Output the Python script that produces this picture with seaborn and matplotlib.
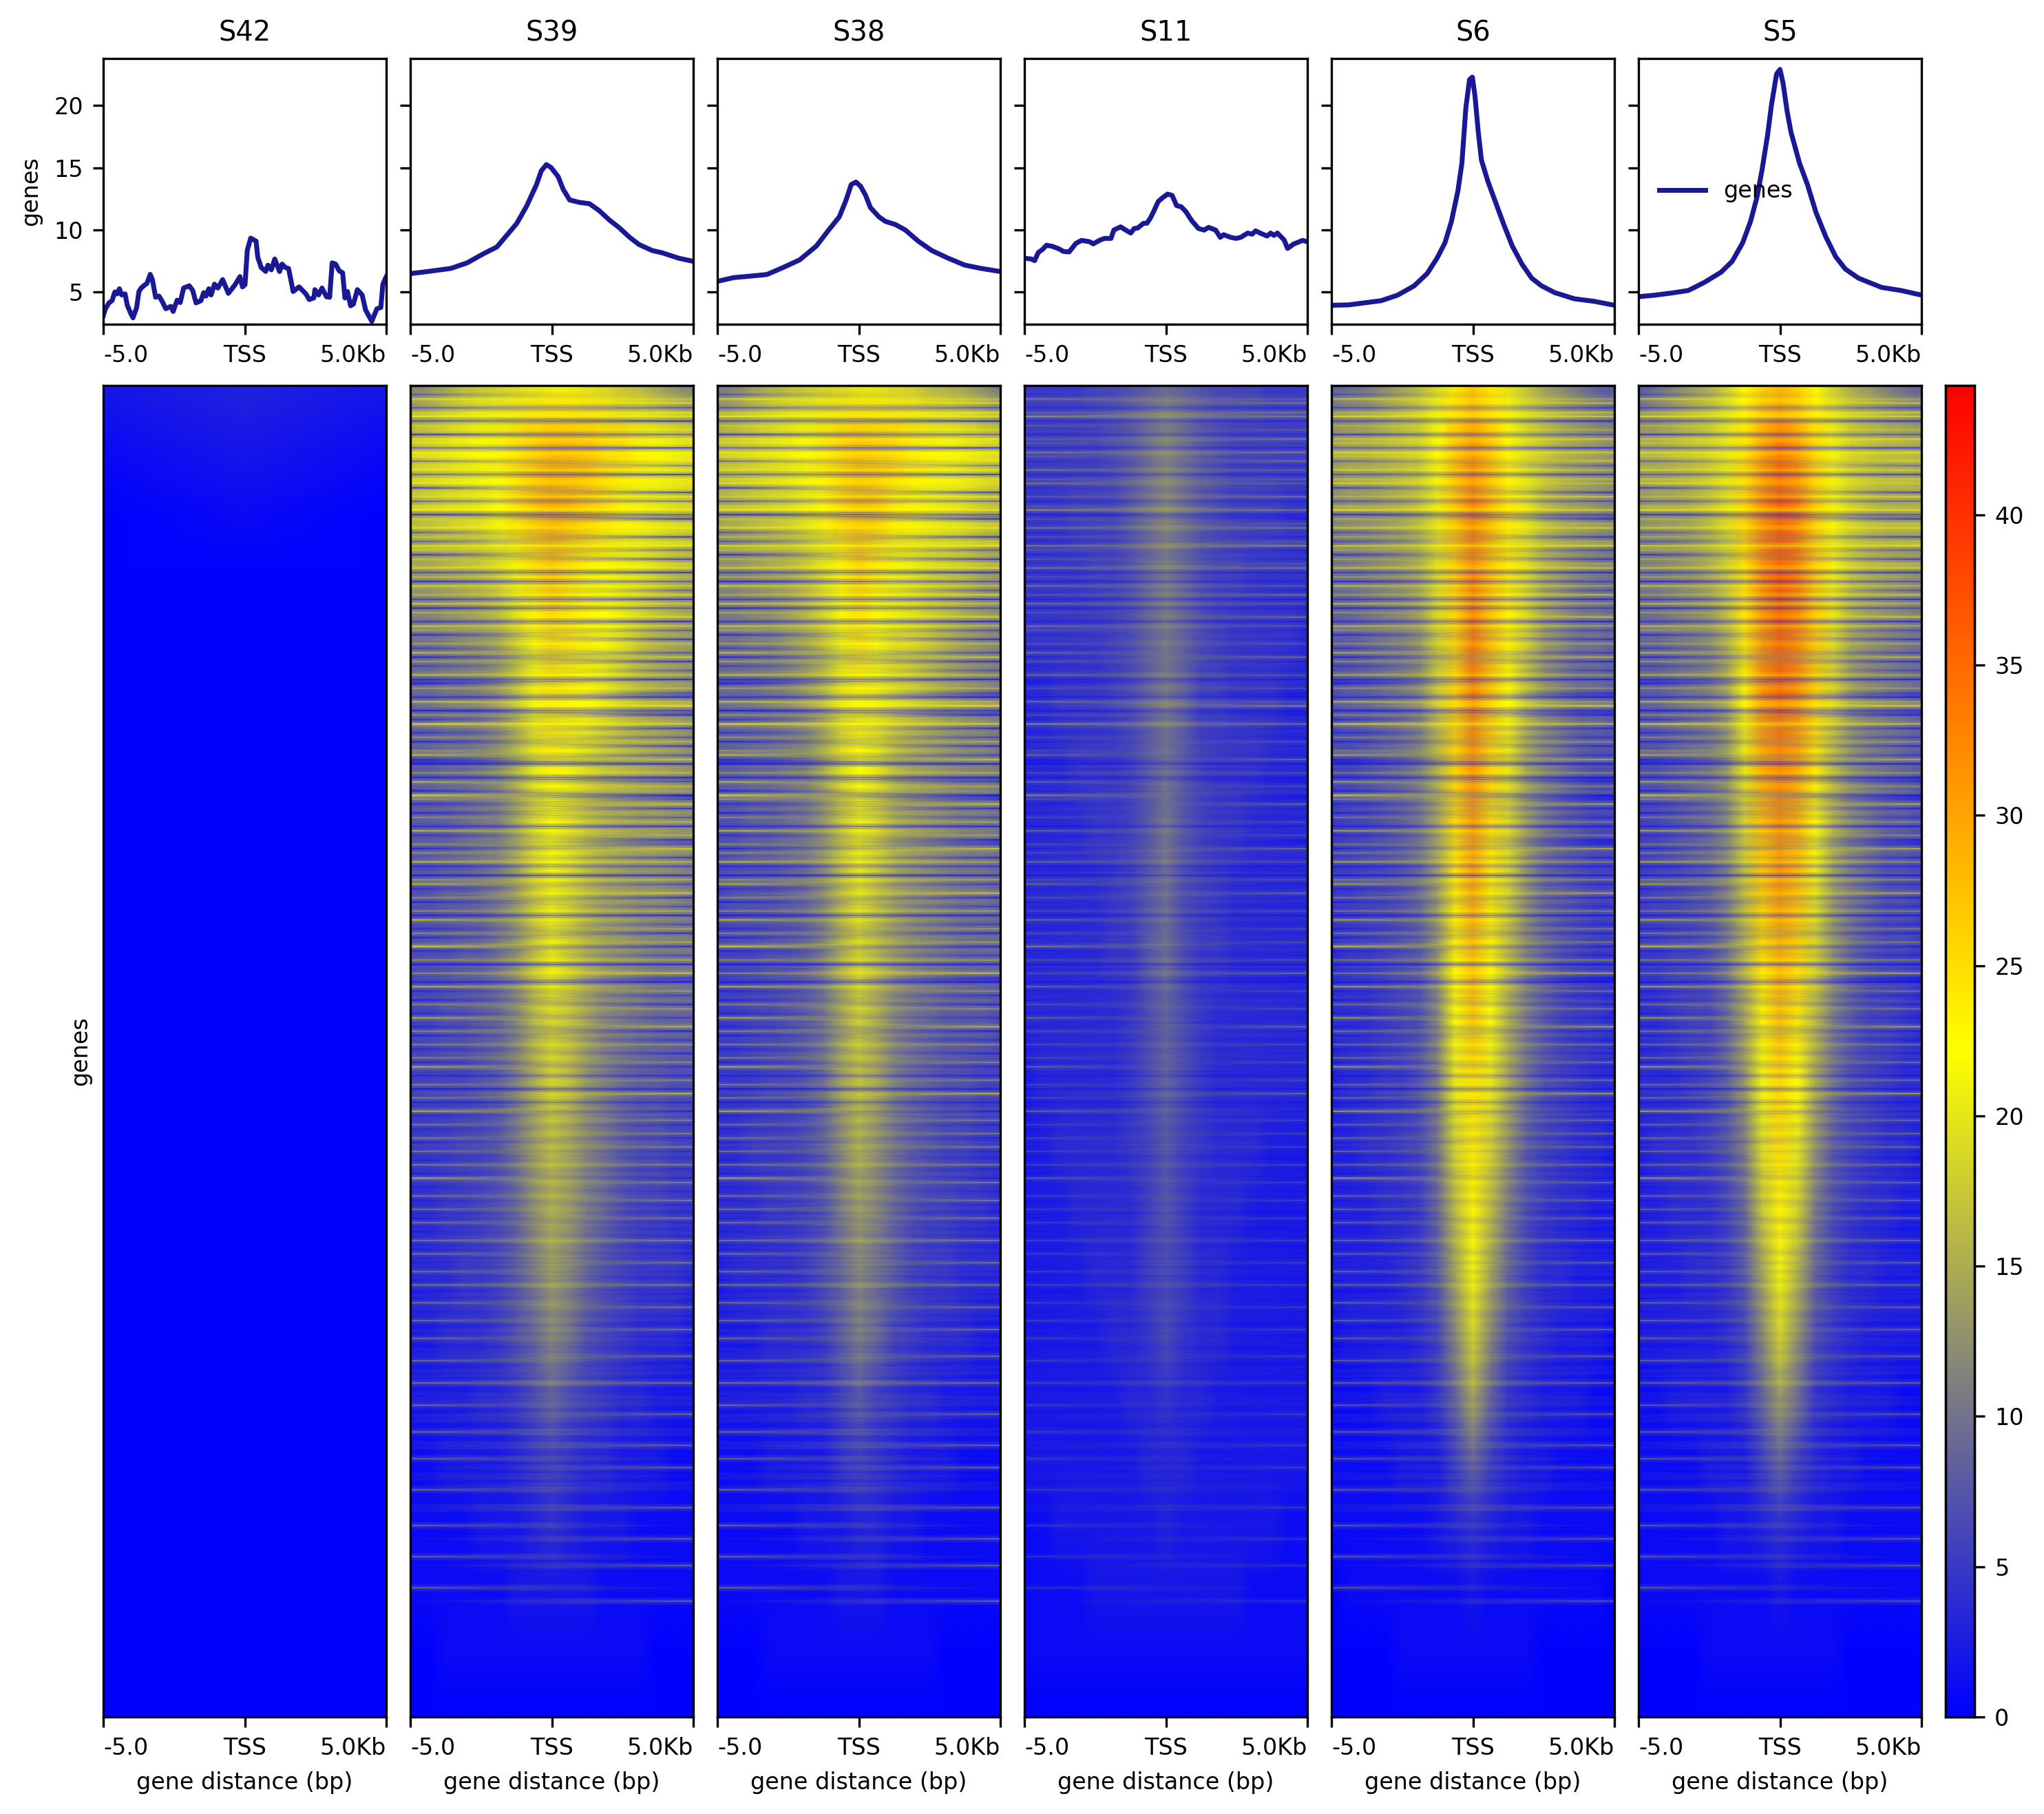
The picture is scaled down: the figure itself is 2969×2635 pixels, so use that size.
import numpy as np
import matplotlib
matplotlib.use("Agg")
import matplotlib.pyplot as plt
import seaborn as sns
from matplotlib.colors import LinearSegmentedColormap

samples = ["S42", "S39", "S38", "S11", "S6", "S5"]

# summary profiles: position in kb from TSS, mean signal
s42_kb = [-5.00, -4.92, -4.80, -4.69, -4.59, -4.51, -4.43, -4.35, -4.23, -4.15, -4.03, -3.95, -3.82, -3.74, -3.66,
          -3.54, -3.46, -3.34, -3.26, -3.15, -3.03, -2.91, -2.79, -2.61, -2.53, -2.39, -2.28, -2.16, -1.96, -1.84,
          -1.72, -1.55, -1.45, -1.37, -1.27, -1.19, -1.07, -0.95, -0.78, -0.58, -0.34, -0.17, -0.08, 0.01, 0.09,
          0.21, 0.40, 0.46, 0.58, 0.74, 0.82, 0.94, 1.06, 1.23, 1.32, 1.43, 1.55, 1.71, 1.92, 2.16, 2.28, 2.44,
          2.48, 2.61, 2.73, 2.89, 3.00, 3.09, 3.21, 3.34, 3.46, 3.54, 3.63, 3.74, 3.84, 3.98, 4.15, 4.27, 4.49,
          4.67, 4.81, 4.88, 4.96, 5.00]
s42_val = [3.08, 3.63, 4.10, 4.28, 4.98, 4.83, 5.24, 4.74, 4.83, 3.90, 3.26, 2.90, 3.73, 5.02, 5.30,
           5.54, 5.66, 6.40, 5.94, 4.56, 4.65, 4.19, 3.63, 3.82, 3.41, 4.32, 4.13, 5.30, 5.48, 5.11,
           4.10, 4.28, 4.93, 4.65, 5.24, 4.74, 5.61, 5.30, 5.98, 4.87, 5.57, 6.22, 5.39, 5.57, 8.34,
           9.32, 9.08, 7.79, 6.96, 6.64, 7.14, 6.77, 7.64, 6.63, 7.23, 6.96, 6.87, 5.02, 5.39, 4.83, 4.37, 4.50,
           5.17, 4.74, 5.30, 4.59, 4.56, 7.33, 7.23, 6.68, 6.53, 4.50, 5.02, 3.87, 4.00, 5.17, 4.74, 3.54, 2.62,
           3.63, 3.73, 5.57, 6.03, 6.20]

s39_kb = [-5, -4.39, -3.57, -2.99, -2.41, -1.94, -1.59, -1.24, -0.89, -0.54, -0.37, -0.19, -0.02, 0.23, 0.40,
          0.63, 0.98, 1.33, 1.68, 2.03, 2.38, 2.73, 3.08, 3.55, 3.90, 4.49, 5]
s39_val = [6.46, 6.63, 6.88, 7.33, 8.07, 8.61, 9.55, 10.5, 11.9, 13.64, 14.75, 15.25, 15.0, 14.26, 13.27,
           12.4, 12.2, 12.1, 11.53, 10.79, 10.17, 9.43, 8.81, 8.32, 8.14, 7.7, 7.45]

s38_kb = [-5, -4.42, -3.83, -3.25, -2.67, -2.09, -1.50, -1.04, -0.69, -0.45, -0.27, -0.10, 0.06, 0.24, 0.41,
          0.71, 0.94, 1.29, 1.64, 2.11, 2.58, 3.16, 3.74, 4.32, 5]
s38_val = [5.84, 6.14, 6.26, 6.39, 6.96, 7.57, 8.69, 10.05, 11.04, 12.4, 13.64, 13.84, 13.51, 12.77, 11.78,
           11.04, 10.67, 10.42, 9.98, 9.06, 8.32, 7.7, 7.15, 6.88, 6.63]

s11_kb = [-5.0, -4.76, -4.64, -4.51, -4.35, -4.22, -4.03, -3.79, -3.62, -3.42, -3.18, -2.98, -2.69, -2.57, -2.33,
          -2.17, -1.94, -1.84, -1.60, -1.44, -1.24, -1.12, -1.0, -0.79, -0.67, -0.55, -0.43, -0.27, -0.11, 0.06,
          0.22, 0.38, 0.54, 0.70, 0.91, 1.15, 1.35, 1.51, 1.76, 1.92, 2.04, 2.28, 2.48, 2.65, 2.89, 3.05, 3.17,
          3.33, 3.58, 3.70, 3.82, 3.94, 4.18, 4.30, 4.51, 4.67, 4.83, 5.0]
s11_val = [7.70, 7.64, 7.51, 8.16, 8.43, 8.75, 8.67, 8.47, 8.25, 8.21, 8.90, 9.14, 9.03, 8.86, 9.16,
           9.30, 9.30, 9.97, 10.23, 10.0, 9.73, 10.1, 10.13, 10.52, 10.52, 10.93, 11.48, 12.28, 12.59, 12.87,
           12.77, 11.94, 11.85, 11.48, 10.74, 10.1, 9.97, 10.19, 9.97, 9.39, 9.6, 9.39, 9.3, 9.39, 9.73, 9.64, 9.91,
           9.73, 9.49, 9.73, 9.54, 9.73, 9.17, 8.49, 8.84, 8.99, 9.14, 9.03]

s6_kb = [-5, -4.40, -3.82, -3.24, -2.66, -2.08, -1.62, -1.27, -0.99, -0.76, -0.53, -0.39, -0.25, -0.12, -0.02,
         0.07, 0.19, 0.30, 0.53, 0.81, 1.09, 1.39, 1.74, 2.08, 2.43, 2.89, 3.59, 4.28, 5]
s6_val = [3.91, 3.94, 4.11, 4.28, 4.73, 5.47, 6.46, 7.7, 8.94, 10.67, 13.14, 15.37, 19.83, 22.1, 22.3,
          20.82, 17.85, 15.62, 13.89, 12.15, 10.42, 8.69, 7.2, 6.09, 5.47, 4.93, 4.43, 4.23, 3.91]

s5_kb = [-5, -4.40, -3.82, -3.24, -2.66, -2.08, -1.69, -1.32, -1.04, -0.81, -0.63, -0.44, -0.30, -0.12, 0.0,
         0.11, 0.25, 0.39, 0.69, 0.97, 1.27, 1.62, 1.97, 2.31, 2.78, 3.59, 4.28, 5]
s5_val = [4.6, 4.73, 4.9, 5.1, 5.77, 6.58, 7.45, 8.94, 10.67, 12.65, 14.88, 17.6, 20.07, 22.55, 22.92,
          21.8, 19.58, 17.85, 15.37, 13.64, 11.41, 9.43, 7.82, 6.83, 6.09, 5.35, 5.1, 4.73]

# heatmap levels, estimated block by block: gene band (top to bottom) x position (left to right)
s42_heat = [[2, 3, 2], [1, 2, 1], [0, 1, 0]] + [[0, 0, 0]] * 19

s39_heat = [
    [11, 12, 14, 16, 17, 18, 19, 20, 21, 21, 20, 19, 17, 16, 14, 12, 11],
    [18, 19, 20, 21, 22, 23, 25, 27, 29, 29, 28, 26, 25, 23, 22, 21, 20],
    [16, 17, 18, 19, 20, 22, 25, 28, 30, 29, 27, 25, 23, 21, 20, 19, 18],
    [13, 13, 14, 15, 16, 18, 21, 25, 27, 25, 23, 22, 21, 20, 18, 16, 15],
    [9, 9, 10, 11, 12, 14, 18, 22, 25, 24, 23, 22, 20, 17, 15, 14, 13],
    [8, 8, 9, 9, 10, 12, 16, 21, 24, 23, 22, 20, 17, 15, 14, 13, 12],
    [7, 7, 8, 8, 9, 11, 15, 20, 23, 21, 19, 17, 16, 15, 14, 13, 12],
    [7, 7, 7, 8, 9, 10, 14, 19, 22, 20, 17, 15, 14, 13, 13, 12, 12],
    [6, 6, 7, 7, 8, 10, 13, 18, 21, 19, 16, 14, 13, 12, 12, 11, 10],
    [6, 6, 6, 7, 7, 9, 12, 17, 21, 18, 15, 13, 12, 11, 10, 10, 10],
    [5, 5, 6, 6, 7, 8, 11, 16, 19, 17, 14, 11, 10, 9, 8, 8, 8],
    [5, 5, 5, 5, 6, 7, 10, 14, 18, 16, 12, 10, 8, 7, 7, 6, 6],
    [4, 4, 4, 5, 5, 6, 9, 13, 16, 14, 11, 9, 7, 6, 6, 5, 5],
    [3, 3, 4, 4, 5, 6, 8, 12, 15, 13, 10, 8, 6, 5, 5, 4, 4],
    [3, 3, 3, 4, 4, 5, 7, 10, 13, 11, 8, 6, 5, 4, 4, 4, 3],
    [2, 2, 3, 3, 3, 4, 6, 8, 11, 9, 6, 5, 4, 3, 3, 3, 2],
    [2, 2, 2, 2, 3, 3, 4, 6, 8, 6, 5, 4, 3, 3, 2, 2, 2],
    [1, 1, 2, 2, 2, 2, 3, 4, 5, 4, 3, 3, 2, 2, 2, 1, 1],
    [1, 1, 1, 1, 2, 2, 2, 3, 4, 3, 2, 2, 2, 1, 1, 1, 1],
    [1, 1, 1, 1, 1, 1, 2, 2, 2, 2, 2, 1, 1, 1, 1, 1, 1],
    [0, 0, 1, 1, 1, 1, 1, 1, 1, 1, 1, 1, 1, 1, 0, 0, 0],
    [0, 0, 0, 0, 0, 0, 0, 0, 0, 0, 0, 0, 0, 0, 0, 0, 0],
]

s38_heat = [
    [10, 11, 13, 15, 16, 17, 18, 19, 20, 20, 19, 18, 16, 15, 14, 12, 10],
    [17, 18, 19, 20, 21, 22, 24, 26, 28, 27, 26, 24, 23, 22, 21, 20, 19],
    [14, 15, 16, 17, 18, 20, 23, 26, 28, 27, 24, 23, 21, 20, 19, 17, 16],
    [11, 11, 12, 13, 14, 16, 19, 23, 26, 24, 21, 20, 18, 17, 16, 14, 13],
    [9, 9, 10, 10, 12, 14, 17, 21, 24, 22, 20, 19, 17, 15, 13, 12, 11],
    [8, 8, 8, 9, 10, 12, 15, 20, 23, 21, 19, 17, 15, 13, 12, 11, 10],
    [7, 7, 8, 8, 9, 10, 14, 19, 22, 20, 16, 14, 13, 12, 11, 11, 10],
    [6, 6, 7, 7, 8, 9, 12, 17, 21, 19, 15, 13, 12, 11, 10, 10, 9],
    [5, 6, 6, 6, 7, 8, 11, 16, 20, 17, 14, 12, 11, 10, 9, 9, 8],
    [5, 5, 5, 6, 6, 7, 10, 15, 19, 16, 13, 11, 10, 9, 8, 8, 8],
    [4, 4, 5, 5, 6, 7, 9, 14, 18, 15, 11, 9, 8, 7, 7, 7, 6],
    [4, 4, 4, 5, 5, 6, 8, 13, 16, 14, 10, 8, 7, 6, 6, 5, 5],
    [3, 3, 4, 4, 4, 5, 7, 11, 15, 12, 9, 7, 6, 5, 5, 4, 4],
    [3, 3, 3, 4, 4, 5, 6, 10, 13, 11, 8, 6, 5, 5, 4, 4, 3],
    [2, 3, 3, 3, 3, 4, 6, 8, 11, 9, 7, 5, 4, 4, 3, 3, 3],
    [2, 2, 2, 3, 3, 3, 4, 7, 10, 8, 5, 4, 3, 3, 3, 2, 2],
    [2, 2, 2, 2, 2, 3, 3, 5, 7, 5, 4, 3, 3, 2, 2, 2, 2],
    [1, 1, 1, 2, 2, 2, 2, 4, 5, 4, 3, 2, 2, 2, 1, 1, 1],
    [1, 1, 1, 1, 1, 2, 2, 2, 3, 3, 2, 2, 1, 1, 1, 1, 1],
    [1, 1, 1, 1, 1, 1, 1, 2, 2, 2, 1, 1, 1, 1, 1, 1, 1],
    [0, 0, 0, 1, 1, 1, 1, 1, 1, 1, 1, 1, 1, 0, 0, 0, 0],
    [0, 0, 0, 0, 0, 0, 0, 0, 0, 0, 0, 0, 0, 0, 0, 0, 0],
]

s11_heat = [
    [5, 5, 5, 5, 6, 6, 7, 8, 9, 8, 7, 6, 6, 6, 5, 5, 5],
    [5, 5, 5, 5, 5, 6, 7, 9, 11, 9, 7, 6, 5, 5, 5, 5, 5],
    [4, 4, 4, 5, 5, 5, 7, 9, 11, 9, 7, 6, 5, 5, 5, 4, 4],
    [4, 4, 4, 4, 5, 5, 6, 8, 10, 8, 6, 5, 5, 4, 4, 4, 4],
    [4, 4, 4, 4, 4, 5, 6, 8, 10, 8, 6, 5, 4, 4, 4, 4, 3],
    [3, 3, 4, 4, 4, 5, 6, 8, 10, 8, 5, 5, 4, 4, 4, 3, 3],
    [3, 3, 3, 4, 4, 4, 5, 7, 9, 7, 5, 4, 4, 4, 3, 3, 3],
    [3, 3, 3, 3, 4, 4, 5, 7, 10, 7, 5, 4, 4, 3, 3, 3, 3],
    [3, 3, 3, 3, 3, 4, 5, 7, 9, 6, 5, 4, 3, 3, 3, 3, 3],
    [3, 3, 3, 3, 3, 4, 4, 7, 9, 6, 4, 4, 3, 3, 3, 3, 3],
    [3, 3, 3, 3, 3, 3, 4, 6, 8, 6, 4, 3, 3, 3, 3, 3, 3],
    [2, 3, 3, 3, 3, 3, 4, 6, 8, 6, 4, 3, 3, 3, 3, 3, 3],
    [2, 2, 3, 3, 3, 3, 4, 5, 7, 5, 4, 3, 3, 3, 2, 2, 2],
    [2, 2, 2, 3, 3, 3, 3, 5, 7, 5, 3, 3, 3, 2, 2, 2, 2],
    [2, 2, 2, 2, 3, 3, 3, 5, 6, 5, 3, 3, 2, 2, 2, 2, 2],
    [2, 2, 2, 2, 2, 3, 3, 4, 6, 4, 3, 3, 2, 2, 2, 2, 2],
    [2, 2, 2, 2, 2, 2, 3, 3, 4, 3, 3, 2, 2, 2, 2, 2, 2],
    [2, 2, 2, 2, 2, 2, 2, 3, 3, 3, 2, 2, 2, 2, 2, 2, 2],
    [1, 1, 2, 2, 2, 2, 2, 2, 3, 2, 2, 2, 2, 2, 2, 1, 1],
    [1, 1, 1, 1, 2, 2, 2, 2, 2, 2, 2, 2, 2, 1, 1, 1, 1],
    [1, 1, 1, 1, 1, 1, 1, 1, 1, 1, 1, 1, 1, 1, 1, 1, 1],
    [0, 0, 0, 0, 0, 0, 0, 0, 0, 0, 0, 0, 0, 0, 0, 0, 0],
]

s6_heat = [
    [8, 9, 10, 12, 14, 16, 19, 24, 27, 24, 20, 17, 14, 12, 10, 8, 7],
    [14, 15, 15, 16, 17, 18, 22, 28, 32, 28, 23, 19, 17, 15, 14, 13, 12],
    [11, 12, 12, 13, 14, 16, 20, 28, 34, 29, 24, 20, 16, 14, 13, 12, 11],
    [9, 9, 10, 11, 12, 14, 19, 27, 33, 28, 24, 19, 15, 13, 11, 10, 9],
    [7, 7, 8, 9, 10, 12, 18, 26, 34, 28, 23, 18, 13, 11, 9, 9, 8],
    [6, 7, 7, 8, 9, 11, 17, 26, 33, 27, 22, 16, 12, 10, 8, 8, 7],
    [5, 5, 6, 7, 8, 10, 15, 26, 32, 26, 20, 14, 11, 9, 7, 6, 6],
    [4, 5, 5, 6, 7, 9, 14, 25, 31, 25, 19, 13, 9, 7, 6, 5, 5],
    [4, 4, 5, 5, 6, 8, 13, 24, 30, 24, 18, 12, 8, 7, 6, 5, 5],
    [3, 4, 4, 5, 6, 7, 12, 23, 28, 23, 16, 11, 8, 6, 5, 4, 4],
    [3, 3, 3, 4, 5, 6, 11, 22, 27, 22, 15, 10, 7, 5, 4, 4, 3],
    [2, 3, 3, 4, 4, 6, 10, 20, 25, 20, 14, 9, 6, 5, 4, 3, 3],
    [2, 2, 3, 3, 4, 5, 9, 18, 24, 18, 12, 7, 5, 4, 3, 3, 2],
    [2, 2, 2, 3, 3, 4, 8, 16, 23, 16, 10, 6, 4, 3, 3, 2, 2],
    [2, 2, 2, 2, 3, 4, 7, 14, 21, 14, 8, 5, 3, 3, 2, 2, 2],
    [1, 2, 2, 2, 2, 3, 5, 11, 18, 11, 6, 4, 3, 2, 2, 2, 1],
    [1, 1, 1, 2, 2, 2, 4, 8, 14, 8, 4, 3, 2, 2, 2, 1, 1],
    [1, 1, 1, 1, 2, 2, 2, 5, 8, 5, 3, 2, 2, 1, 1, 1, 1],
    [1, 1, 1, 1, 1, 1, 2, 3, 4, 3, 2, 2, 1, 1, 1, 1, 1],
    [0, 1, 1, 1, 1, 1, 1, 1, 2, 1, 1, 1, 1, 1, 1, 1, 0],
    [0, 0, 0, 0, 1, 1, 1, 1, 1, 1, 1, 1, 0, 0, 0, 0, 0],
    [0, 0, 0, 0, 0, 0, 0, 0, 0, 0, 0, 0, 0, 0, 0, 0, 0],
]

s5_heat = [
    [7, 9, 11, 13, 15, 18, 22, 26, 28, 26, 22, 18, 15, 13, 11, 9, 8],
    [15, 15, 16, 17, 18, 20, 25, 31, 35, 32, 26, 21, 18, 17, 16, 16, 15],
    [12, 13, 13, 14, 16, 19, 26, 33, 37, 34, 27, 21, 18, 16, 15, 15, 15],
    [10, 10, 11, 12, 14, 17, 25, 33, 37, 34, 27, 21, 17, 15, 14, 13, 12],
    [8, 8, 9, 10, 11, 15, 24, 32, 36, 33, 27, 19, 14, 12, 11, 10, 9],
    [7, 7, 8, 9, 10, 13, 23, 32, 35, 32, 26, 18, 13, 11, 10, 9, 8],
    [6, 6, 7, 8, 9, 12, 20, 30, 33, 30, 24, 16, 12, 10, 9, 8, 7],
    [5, 5, 6, 7, 8, 11, 18, 28, 32, 29, 22, 15, 11, 9, 7, 7, 6],
    [4, 5, 5, 6, 7, 10, 16, 27, 31, 28, 20, 13, 10, 8, 6, 6, 5],
    [4, 4, 5, 5, 6, 9, 15, 25, 29, 26, 18, 12, 8, 6, 5, 5, 4],
    [3, 3, 4, 5, 5, 8, 14, 23, 28, 24, 16, 10, 7, 5, 5, 4, 3],
    [3, 3, 3, 4, 5, 7, 12, 21, 26, 22, 14, 9, 6, 5, 4, 3, 3],
    [2, 3, 3, 3, 4, 6, 10, 19, 25, 20, 12, 7, 5, 4, 3, 3, 2],
    [2, 2, 3, 3, 3, 5, 8, 17, 23, 18, 10, 6, 4, 3, 3, 2, 2],
    [2, 2, 2, 3, 3, 4, 7, 14, 21, 15, 8, 5, 3, 3, 2, 2, 2],
    [2, 2, 2, 2, 2, 3, 5, 11, 18, 12, 6, 4, 3, 2, 2, 2, 2],
    [1, 1, 2, 2, 2, 2, 4, 8, 13, 9, 4, 3, 2, 2, 2, 1, 1],
    [1, 1, 1, 1, 2, 2, 2, 5, 8, 5, 3, 2, 2, 1, 1, 1, 1],
    [1, 1, 1, 1, 1, 2, 2, 3, 4, 3, 2, 2, 1, 1, 1, 1, 1],
    [1, 1, 1, 1, 1, 1, 1, 1, 2, 1, 1, 1, 1, 1, 1, 1, 1],
    [0, 0, 0, 0, 1, 1, 1, 1, 1, 1, 1, 1, 0, 0, 0, 0, 0],
    [0, 0, 0, 0, 0, 0, 0, 0, 0, 0, 0, 0, 0, 0, 0, 0, 0],
]

streaks_left = [
    0, 0, -1, 2, 0, -1, 1, 3, -1, 1, 0, -2, 1, 1, -1, 2, 1, -1, 0, 2,
    -1, 1, 2, -2, 0, 1, -1, 1, 3, -2, 1, 0, 2, -1, 1, -1, 2, 1, -2, 1,
    0, 2, -1, 1, -2, 2, 0, 1, -1, 2, -2, 1, 0, -1, 2, 1, -2, 0, 1, -1,
    2, -2, 1, -1, 0, 2, -1, -2, 1, 0, -1, 2, 0, -2, 1, -1, 3, 0, -1, 1,
    -2, 0, 1, 2, -1, -2, 0, 1, -1, 2, 0, -2, 3, 1, -1, 0, -2, 1, 0, -1,
    2, -1, 0, 1, -2, 1, 0, 2, -1, 0, -2, 1, 2, -1, 0, 1, -2, 0, 1, -1,
    2, 0, -1, 1, -2, 0, 3, -1, 0, 1, -2, 0, 1, 0, -1, 2, -1, 0, -2, 1,
    0, -1, 2, 0, -1, 1, -2, 0, 1, -1, 0, 1, -1, 2, 0, -1, 0, 1, -2, 0,
    1, -1, 0, 2, -1, 0, 1, -1, 0, 1, -2, 0, 1, 0, -1, 1, 0, -1, 2, 0,
    -1, 0, 1, -1, 0, 1, 0, -1, 1, 0, -1, 0, 1, 0, -1, 1, 0, -1, 0, 1,
    0, -1, 1, 0, 0, -1, 1, 0, -1, 0, 1, 0, 0, -1, 1, 0, 0, -1, 0, 1,
    0, 0, -1, 0, 1, 0, 0, -1, 0, 1, 0, 0, -1, 0, 0, 1, 0, 0, -1, 0,
    0, 1, 0, 0, 0, -1, 0, 0, 1, 0, 0, 0, -1, 0, 0, 0, 1, 0, 0, 0,
    0, 0, 0, 1, 0, 0, 0, 0, 0, 0, 1, 0, 0, 0, 0, 0, 0, 0, 0, 0,
    0, 0, 0, 0, 0, 0, 0, 0, 0, 0, 0, 0, 0, 0, 0, 0, 0, 0, 0, 0,
]
streaks_right = [
    -1, 0, 0, 1, 2, -1, 2, 2, -2, 0, 1, -1, 2, 0, -2, 2, 0, 2, -1, 1,
    -2, 1, 1, 0, -2, 2, -1, 0, 2, -1, -2, 1, 2, 0, -2, 1, 3, -1, 0, -2,
    1, 2, -2, 0, -1, 1, -1, 2, -2, 1, -1, 0, 2, -2, 1, -1, 0, -2, 1, 0,
    -1, 2, -2, 0, -1, 1, -2, 0, 1, -1, -2, 1, 3, -1, -2, 0, 2, -2, 0, -1,
    1, -2, 0, -1, 2, -2, 0, 1, -2, -1, 1, 0, -3, -1, 2, -2, 0, -1, 1, -2,
    0, 1, -2, -1, 2, 0, -2, 1, -1, 0, -2, 1, -1, 0, 2, -2, 0, -1, 1, -2,
    0, -1, 1, -2, 0, 1, -2, 0, -1, 1, -2, 0, 2, -1, -2, 0, 1, -1, 0, -2,
    1, 0, -1, 0, 2, -2, 0, -1, 1, 0, -2, 0, 1, -1, 0, -1, 1, 0, -1, 2,
    0, -1, 0, -2, 0, 1, -1, 0, 1, -1, 0, 1, -1, 0, 0, 1, -1, 0, -1, 1,
    0, -1, 0, 1, -1, 0, 0, 1, -1, 0, 0, -1, 1, 0, 0, -1, 0, 1, 0, -1,
    0, 0, 1, 0, -1, 0, 0, 1, 0, -1, 0, 0, 1, 0, 0, -1, 0, 0, 1, 0,
    0, -1, 0, 0, 1, 0, 0, 0, -1, 0, 0, 1, 0, 0, 0, -1, 0, 0, 1, 0,
    0, 0, 0, 1, 0, 0, 0, -1, 0, 0, 0, 0, 1, 0, 0, 0, 0, 0, 0, 1,
    0, 0, 0, 0, 0, 1, 0, 0, 0, 0, 0, 0, 0, 1, 0, 0, 0, 0, 0, 0,
    0, 0, 0, 0, 0, 0, 0, 0, 0, 0, 0, 0, 0, 0, 0, 0, 0, 0, 0, 0,
]

heat_levels = [s42_heat, s39_heat, s38_heat, s11_heat, s6_heat, s5_heat]
profile_kb = [s42_kb, s39_kb, s38_kb, s11_kb, s6_kb, s5_kb]
profile_val = [s42_val, s39_val, s38_val, s11_val, s6_val, s5_val]
streak_range = [None, 3, 3, 7, 3.5, 3.5]

region_labels = ["-5.0", "TSS", "5.0Kb"]
colorbar_ticks = [0, 5, 10, 15, 20, 25, 30, 35, 40]
heat_max = 44.3

plt.rcParams["font.size"] = 8
W, H = 2969, 2635
fig = plt.figure(figsize=(W / 300, H / 300), dpi=300)


def px_axes(left, top, right, bottom):
    return fig.add_axes([left / W, 1 - bottom / H, (right - left) / W, (bottom - top) / H])


def edge_labels(ax):
    labels = ax.set_xticklabels(region_labels)
    labels[0].set_ha("left")
    labels[2].set_ha("right")


lefts = [150, 596, 1042, 1488, 1934, 2380]
panel_w = 411
heat_bottom = 2494
heat_cmap = LinearSegmentedColormap.from_list("byr", ["blue", "yellow", "red"])
streak_cmap = LinearSegmentedColormap.from_list(
    "streak",
    [(0, (0, 0, 1, 0.7)), (0.499, (0, 0, 1, 0)), (0.501, (1, 1, 0, 0)), (1, (1, 1, 0, 0.55))],
)
streak_rows = np.column_stack([streaks_left, streaks_right]).astype(float)
cax = px_axes(2826, 560, 2868, heat_bottom)

for i, name in enumerate(samples):
    # summary profile
    ax = px_axes(lefts[i], 85, lefts[i] + panel_w, 471)
    sns.lineplot(x=profile_kb[i], y=profile_val[i], ax=ax, color="darkblue", alpha=0.9, linewidth=1.7,
                 estimator=None, sort=False, label="genes" if name == "S5" else None,
                 legend=name == "S5")
    ax.set_xlim(-5, 5)
    ax.set_ylim(2.38, 23.8)
    ax.set_yticks([5, 10, 15, 20])
    ax.set_xticks([-5, 0, 5])
    edge_labels(ax)
    ax.set_title(name, fontsize=9.6)
    if i == 0:
        ax.set_ylabel("genes")
    else:
        ax.set_yticklabels([])
    if name == "S5":
        ax.legend(loc="center left", frameon=False, fontsize=8)

    # heatmap, gouraud shading keeps the block levels from looking like tiles
    hax = px_axes(lefts[i], 560, lefts[i] + panel_w, heat_bottom)
    levels = np.array(heat_levels[i], dtype=float)
    sns.heatmap(levels, ax=hax, cmap=heat_cmap, vmin=0, vmax=heat_max, shading="gouraud",
                cbar=name == "S5", cbar_ax=cax if name == "S5" else None,
                xticklabels=False, yticklabels=False)
    n_rows, n_cols = levels.shape
    hax.set_xlim(0, n_cols - 1)
    hax.set_ylim(n_rows - 1, 0)

    if streak_range[i] is not None:
        over = hax.inset_axes([0, 0, 1, 1], zorder=2)
        sns.heatmap(streak_rows, ax=over, cmap=streak_cmap, shading="gouraud",
                    vmin=-streak_range[i], vmax=streak_range[i], cbar=False,
                    xticklabels=False, yticklabels=False)
        over.set_xlim(0, streak_rows.shape[1] - 1)
        over.set_ylim(streak_rows.shape[0] - 1, 0)
        over.axis("off")

    for spine in hax.spines.values():
        spine.set_visible(True)
        spine.set_linewidth(0.8)
    hax.set_xticks([0, (n_cols - 1) / 2, n_cols - 1])
    edge_labels(hax)
    hax.tick_params(axis="x", length=3.5, width=0.8, labelsize=8, labelrotation=0)
    hax.set_xlabel("gene distance (bp)", fontsize=8)
    hax.set_yticks([])
    if i == 0:
        hax.set_ylabel("genes", fontsize=8)

cax.set_yticks(colorbar_ticks)
cax.tick_params(labelsize=8, length=3.5, width=0.8)
for spine in cax.spines.values():
    spine.set_visible(True)
    spine.set_linewidth(0.8)

fig.savefig("out.png", dpi=300)
plt.close(fig)
